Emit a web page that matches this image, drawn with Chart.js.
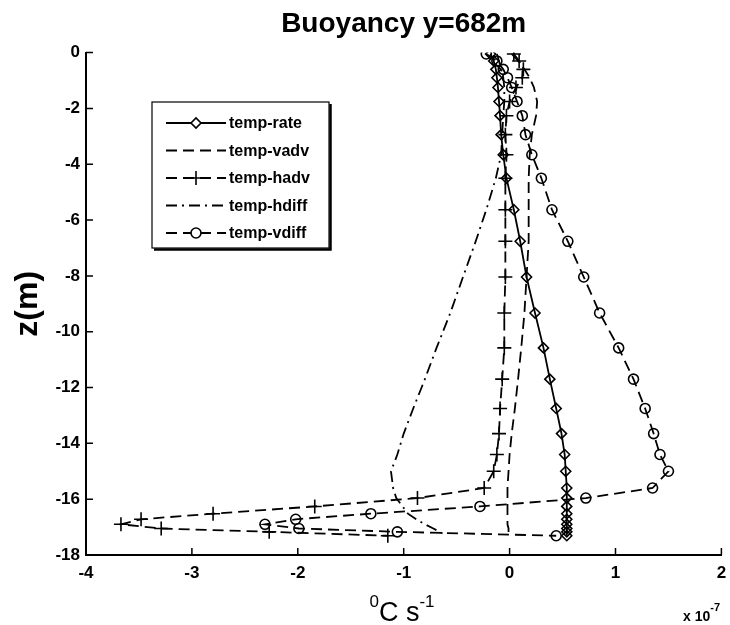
<!DOCTYPE html>
<html>
<head>
<meta charset="utf-8">
<script src="https://cdn.jsdelivr.net/npm/chart.js@4.4.0/dist/chart.umd.min.js"></script>
<style>
  html, body { margin: 0; padding: 0; background: #fff; }
</style>
</head>
<body>
<canvas id="buoyChart" width="730" height="625"></canvas>
<script>
// depth levels (m) shared by every profile
const zLevels = [-0.05, -0.3, -0.6, -0.9, -1.25, -1.75, -2.26, -2.94, -3.66, -4.5,
  -5.63, -6.76, -8.04, -9.33, -10.58, -11.7, -12.75, -13.65, -14.4, -15.0,
  -15.6, -15.96, -16.26, -16.52, -16.72, -16.9, -17.05, -17.17, -17.31];

// terms in units of 1e-7 degC/s
const rateVals = [-0.18, -0.15, -0.13, -0.12, -0.11, -0.1, -0.09, -0.08, -0.06, -0.03,
  0.04, 0.10, 0.16, 0.24, 0.32, 0.38, 0.44, 0.49, 0.52, 0.53,
  0.54, 0.54, 0.54, 0.54, 0.54, 0.54, 0.54, 0.54, 0.54];
const vadvVals = [0.02, 0.08, 0.14, 0.19, 0.23, 0.26, 0.25, 0.21, 0.19, 0.18,
  0.18, 0.18, 0.16, 0.14, 0.11, 0.08, 0.05, 0.02, 0.0, -0.01,
  -0.02, -0.02, -0.02, -0.02, -0.02, -0.02, -0.01, -0.01, -0.01];
const hadvVals = [0.04, 0.09, 0.13, 0.12, 0.06, 0.0, -0.03, -0.04, -0.03, -0.04,
  -0.04, -0.04, -0.04, -0.05, -0.05, -0.07, -0.09, -0.10, -0.12, -0.15,
  -0.24, -0.87, -1.84, -2.80, -3.48, -3.67, -3.29, -2.27, -1.15];
const hdiffVals = [-0.12, -0.1, -0.08, -0.06, -0.05, -0.05, -0.06, -0.07, -0.08, -0.13,
  -0.22, -0.32, -0.44, -0.56, -0.69, -0.8, -0.91, -1.0, -1.06, -1.12,
  -1.1, -1.07, -1.01, -0.96, -0.88, -0.8, -0.72, -0.66, -0.6];
const vdiffVals = [-0.22, -0.12, -0.06, -0.02, 0.02, 0.07, 0.12, 0.15, 0.21, 0.30,
  0.40, 0.55, 0.70, 0.85, 1.03, 1.17, 1.28, 1.36, 1.42, 1.50,
  1.35, 0.72, -0.28, -1.31, -2.02, -2.31, -1.99, -1.06, 0.44];

const seriesNames = ['temp-rate', 'temp-vadv', 'temp-hadv', 'temp-hdiff', 'temp-vdiff'];
const FONT = '"Liberation Sans", Arial, Helvetica, sans-serif';

const profile = vals => vals.map((v, i) => ({ x: v, y: zLevels[i] }));

const styles = [
  { dash: [], point: 'rectRot', radius: 5 },
  { dash: [11, 6], point: false, radius: 0 },
  { dash: [11, 6], point: 'cross', radius: 7 },
  { dash: [11, 5, 2, 5], point: false, radius: 0 },
  { dash: [11, 6], point: 'circle', radius: 5 }
];

const allVals = [rateVals, vadvVals, hadvVals, hdiffVals, vdiffVals];

const datasets = allVals.map((vals, i) => ({
  label: seriesNames[i],
  data: profile(vals),
  showLine: true,
  borderColor: '#000',
  borderWidth: 1.8,
  borderDash: styles[i].dash,
  pointStyle: styles[i].point || 'circle',
  pointRadius: styles[i].radius,
  pointBorderWidth: 1.6,
  pointBorderColor: '#000',
  pointBackgroundColor: 'rgba(0,0,0,0)',
  tension: 0
}));

// inward tick marks like matlab
const inwardTicks = {
  id: 'inwardTicks',
  afterDraw(chart) {
    const ctx = chart.ctx;
    const xs = chart.scales.x, ys = chart.scales.y;
    const a = chart.chartArea;
    ctx.save();
    ctx.strokeStyle = '#000';
    ctx.lineWidth = 1.5;
    ctx.beginPath();
    xs.ticks.forEach(t => {
      const px = xs.getPixelForValue(t.value);
      ctx.moveTo(px, a.bottom);
      ctx.lineTo(px, a.bottom - 7);
    });
    ys.ticks.forEach(t => {
      const py = ys.getPixelForValue(t.value);
      ctx.moveTo(a.left, py);
      ctx.lineTo(a.left + 7, py);
    });
    ctx.stroke();
    ctx.restore();
  }
};

// legend box in upper left, plus the x label with superscripts
const extras = {
  id: 'extras',
  afterDraw(chart) {
    const ctx = chart.ctx;
    ctx.save();
    // legend
    const bx = 152, by = 102, bw = 177, bh = 146;
    ctx.fillStyle = '#fff';
    ctx.fillRect(bx, by, bw, bh);
    ctx.strokeStyle = '#000';
    ctx.lineWidth = 1.2;
    ctx.strokeRect(bx, by, bw, bh);
    ctx.lineWidth = 2.5;
    ctx.beginPath();
    ctx.moveTo(bx + 2, by + bh + 1.5);
    ctx.lineTo(bx + bw + 1.5, by + bh + 1.5);
    ctx.lineTo(bx + bw + 1.5, by + 2);
    ctx.stroke();

    ctx.textBaseline = 'middle';
    seriesNames.forEach((name, i) => {
      const y = 123 + i * 27.5;
      const st = styles[i];
      ctx.lineWidth = 1.8;
      ctx.setLineDash(st.dash);
      ctx.beginPath();
      ctx.moveTo(166, y);
      ctx.lineTo(226, y);
      ctx.stroke();
      ctx.setLineDash([]);
      if (st.point) {
        ctx.lineWidth = 1.6;
        ctx.fillStyle = '#fff';
        Chart.helpers.drawPoint(ctx, { pointStyle: st.point, radius: st.radius, borderWidth: 1.6 }, 196, y);
      }
      ctx.fillStyle = '#000';
      ctx.font = 'bold 16px ' + FONT;
      ctx.fillText(name, 229, y + 1);
    });

    // x axis label: 0C s-1
    ctx.fillStyle = '#000';
    ctx.textBaseline = 'alphabetic';
    const supF = '17px ' + FONT, mainF = '27px ' + FONT;
    ctx.font = supF; const w0 = ctx.measureText('0').width; const w2 = ctx.measureText('-1').width;
    ctx.font = mainF; const w1 = ctx.measureText('C s').width;
    let x0 = 402 - (w0 + w1 + w2) / 2;
    ctx.font = supF; ctx.fillText('0', x0, 607);
    ctx.font = mainF; ctx.fillText('C s', x0 + w0, 621);
    ctx.font = supF; ctx.fillText('-1', x0 + w0 + w1, 607);

    // exponent note
    ctx.font = 'bold 14px ' + FONT;
    ctx.fillText('x 10', 683, 621);
    const wx = ctx.measureText('x 10').width;
    ctx.font = 'bold 11px ' + FONT;
    ctx.fillText('-7', 683 + wx, 611);
    ctx.restore();
  }
};

new Chart(document.getElementById('buoyChart'), {
  type: 'scatter',
  data: { datasets: datasets },
  plugins: [inwardTicks, extras],
  options: {
    responsive: false,
    animation: false,
    layout: { padding: { left: 0, right: 0, top: 0, bottom: 0 } },
    plugins: {
      legend: { display: false },
      tooltip: { enabled: false },
      title: {
        display: true,
        fullSize: false,
        text: 'Buoyancy y=682m',
        color: '#000',
        font: { family: FONT, size: 28, weight: 'bold' },
        padding: { top: 7, bottom: 12 }
      }
    },
    scales: {
      x: {
        type: 'linear',
        min: -4,
        max: 2,
        ticks: { stepSize: 1, color: '#000', font: { family: FONT, size: 17, weight: 'bold' }, padding: 8, maxRotation: 0 },
        grid: { display: false, drawTicks: false },
        border: { display: true, color: '#000', width: 2 },
        afterFit: s => { s.height = 70; s.paddingRight = 3; s.paddingLeft = 0; }
      },
      y: {
        type: 'linear',
        min: -18,
        max: 0,
        ticks: { stepSize: 2, color: '#000', font: { family: FONT, size: 17, weight: 'bold' }, padding: 6 },
        grid: { display: false, drawTicks: false },
        border: { display: true, color: '#000', width: 2 },
        title: {
          display: true,
          text: 'z(m)',
          color: '#000',
          font: { family: FONT, size: 32, weight: 'bold' },
          padding: { top: 9, bottom: 0 }
        },
        afterFit: s => { s.width = 86; }
      }
    }
  }
});
</script>
</body>
</html>
